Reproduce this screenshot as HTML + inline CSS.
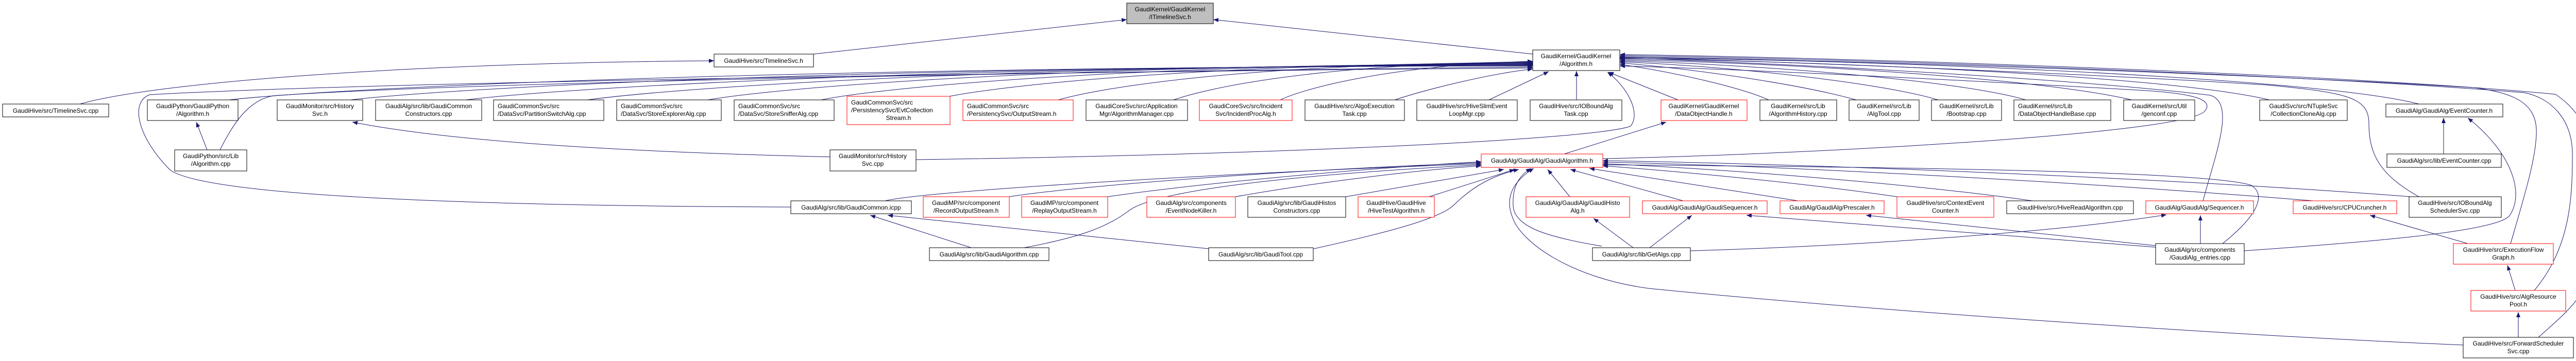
<!DOCTYPE html>
<html><head><meta charset="utf-8"><style>
html,body{margin:0;padding:0;background:#fff}
svg{display:block}
text{font-family:"Liberation Sans",Arial,sans-serif;font-size:12px;fill:#000}
.e{fill:none;stroke:#191970;stroke-width:1}
.n{fill:#fff;stroke:#000;stroke-width:1}
.r{fill:#fff;stroke:#ff0000;stroke-width:1}
</style></head><body>
<svg width="5051" height="701" viewBox="0 0 5051 701" xmlns="http://www.w3.org/2000/svg">
<defs><marker id="a" markerWidth="10" markerHeight="8" refX="10" refY="4" orient="auto" markerUnits="userSpaceOnUse"><path d="M0,0 L10,4 L0,8 z" fill="#191970"/></marker></defs>
<rect width="5051" height="701" fill="#fff"/>
<g class="e" marker-end="url(#a)">
<path d="M1579,105 L2187,38"/>
<path d="M2975,105 L2355,38"/>
<path d="M155,202 C300,160 800,122 1386,118"/>
<path d="M444,194 C646,172 1456,130 2975,128"/>
<path d="M680,194 C870,172 1600,130 2975,127"/>
<path d="M904,194 C1080,172 1780,129 2975,126"/>
<path d="M1140,194 C1300,172 1900,128 2975,125"/>
<path d="M1374,194 C1500,172 2000,127 2975,124"/>
<path d="M1594,194 C1700,172 2150,126 2975,123"/>
<path d="M1843,187 C1940,168 2300,125 2975,122"/>
<path d="M2054,194 C2130,172 2400,124 2975,121"/>
<path d="M2278,194 C2340,172 2550,124 2975,120"/>
<path d="M2485,194 C2530,172 2700,126 2975,119"/>
<path d="M2707,194 C2780,170 2900,142 2975,134"/>
<path d="M2890,194 L3006,139"/>
<path d="M3060,194 L3060,138"/>
<path d="M427,291 C450,245 480,195 530,186 C900,160 2000,140 2975,130"/>
<path d="M1535,402 C900,400 400,380 330,330 C270,270 250,200 290,184 C700,160 2000,140 2975,132"/>
<path d="M1778,310 C2500,300 3100,270 3165,245 C3185,220 3160,170 3120,140"/>
<path d="M3257,194 L3122,140"/>
<path d="M3433,194 C3380,170 3250,140 3144,125"/>
<path d="M3603,194 C3500,165 3300,135 3144,122"/>
<path d="M3762,194 C3650,160 3350,128 3144,120"/>
<path d="M3932,194 C3800,155 3400,125 3144,118"/>
<path d="M4138,194 C3950,150 3450,122 3144,116"/>
<path d="M4405,194 C4200,145 3500,118 3144,114"/>
<path d="M4695,202 C4500,150 3600,115 3144,112"/>
<path d="M4276,390 C4300,300 4340,200 4290,185 C4000,150 3400,120 3144,113"/>
<path d="M4695,382 C4620,340 4598,300 4598,240 C4598,190 4560,180 4400,165 C4000,140 3400,118 3144,111"/>
<path d="M4873,473 C4900,380 4925,300 4923,250 C4920,200 4880,180 4800,170 C4300,140 3500,115 3144,110"/>
<path d="M4919,564 C4990,480 4993,380 4993,300 C4993,230 4950,190 4900,180 C4400,140 3500,112 3144,108"/>
<path d="M4927,655 C5000,590 5042,560 5042,430 C5042,300 5030,230 4960,183 C4500,140 3500,110 3144,106"/>
<path d="M3111,308 C3500,300 4250,260 4280,215 C4300,190 4240,180 4150,175 C3800,155 3400,135 3144,128"/>
<path d="M3036,299 L3234,237"/>
<path d="M402,291 L381,237"/>
<path d="M1778,308 C1300,300 900,280 684,237"/>
<path d="M4743,299 L4743,229"/>
<path d="M4356,487 C4600,470 4840,450 4870,420 C4900,380 4880,300 4790,229"/>
<path d="M1718,390 C1800,370 2400,335 2875,318"/>
<path d="M1959,382 C2100,360 2500,330 2875,316"/>
<path d="M2150,382 C2300,360 2600,330 2875,314"/>
<path d="M2398,382 C2550,355 2750,330 2875,322"/>
<path d="M2612,382 L2919,329"/>
<path d="M2774,382 L2940,329"/>
<path d="M3047,382 L3004,329"/>
<path d="M3267,390 L3048,329"/>
<path d="M3490,390 L3085,327"/>
<path d="M3682,382 C3500,355 3250,332 3111,322"/>
<path d="M3945,390 C3700,355 3300,325 3111,318"/>
<path d="M4490,390 C4000,350 3400,320 3111,315"/>
<path d="M4680,382 C4200,345 3500,318 3111,312"/>
<path d="M1988,481 C2100,460 2150,440 2190,410 C2240,370 2500,340 2875,320"/>
<path d="M1885,481 L1689,418"/>
<path d="M2346,483 L1723,418"/>
<path d="M2550,483 C2700,450 2790,425 2820,400 C2860,360 2900,340 2948,329"/>
<path d="M3170,481 L3093,424"/>
<path d="M3202,481 L3284,418"/>
<path d="M3109,478 C3000,460 2940,440 2937,400 C2935,360 2950,340 2972,327"/>
<path d="M3281,487 C3600,478 4000,450 4205,417"/>
<path d="M4781,670 C4300,650 3600,600 3200,560 C3050,540 2950,470 2935,420 C2920,380 2940,350 2977,327"/>
<path d="M4184,480 L3390,418"/>
<path d="M4184,477 L3622,418"/>
<path d="M4271,473 L4271,418"/>
<path d="M4314,473 C4380,420 4400,380 4370,360 C4300,335 3800,325 3111,320"/>
<path d="M4790,473 L4600,418"/>
<path d="M4882,564 L4867,515"/>
<path d="M4888,655 L4888,606"/>
</g>
<g>
<rect class="n" x="2187" y="6" width="168" height="40" style="fill:#bfbfbf"/><text x="2271" y="22" text-anchor="middle">GaudiKernel/GaudiKernel</text><text x="2271" y="37" text-anchor="middle">/ITimelineSvc.h</text>
<rect class="n" x="1386" y="105" width="193" height="25"/><text x="1482" y="122" text-anchor="middle">GaudiHive/src/TimelineSvc.h</text>
<rect class="n" x="2975" y="97" width="169" height="40"/><text x="3059" y="113" text-anchor="middle">GaudiKernel/GaudiKernel</text><text x="3059" y="128" text-anchor="middle">/Algorithm.h</text>
<rect class="n" x="5" y="202" width="206" height="25"/><text x="108" y="219" text-anchor="middle">GaudiHive/src/TimelineSvc.cpp</text>

<rect class="n" x="286" y="194" width="176" height="40"/><text x="374" y="210" text-anchor="middle">GaudiPython/GaudiPython</text><text x="374" y="225" text-anchor="middle">/Algorithm.h</text>
<rect class="n" x="538" y="194" width="166" height="40"/><text x="621" y="210" text-anchor="middle">GaudiMonitor/src/History</text><text x="621" y="225" text-anchor="middle">Svc.h</text>
<rect class="n" x="729" y="194" width="206" height="40"/><text x="832" y="210" text-anchor="middle">GaudiAlg/src/lib/GaudiCommon</text><text x="832" y="225" text-anchor="middle">Constructors.cpp</text>
<rect class="n" x="958" y="194" width="214" height="40"/><text x="966" y="210">GaudiCommonSvc/src</text><text x="966" y="225">/DataSvc/PartitionSwitchAlg.cpp</text>
<rect class="n" x="1197" y="194" width="203" height="40"/><text x="1205" y="210">GaudiCommonSvc/src</text><text x="1205" y="225">/DataSvc/StoreExplorerAlg.cpp</text>
<rect class="n" x="1425" y="194" width="194" height="40"/><text x="1433" y="210">GaudiCommonSvc/src</text><text x="1433" y="225">/DataSvc/StoreSnifferAlg.cpp</text>
<rect class="r" x="1644" y="187" width="200" height="55"/><text x="1652" y="203">GaudiCommonSvc/src</text><text x="1652" y="218">/PersistencySvc/EvtCollection</text><text x="1744" y="233" text-anchor="middle">Stream.h</text>
<rect class="r" x="1869" y="194" width="214" height="40"/><text x="1877" y="210">GaudiCommonSvc/src</text><text x="1877" y="225">/PersistencySvc/OutputStream.h</text>
<rect class="n" x="2108" y="194" width="197" height="40"/><text x="2206" y="210" text-anchor="middle">GaudiCoreSvc/src/Application</text><text x="2206" y="225" text-anchor="middle">Mgr/AlgorithmManager.cpp</text>
<rect class="r" x="2328" y="194" width="180" height="40"/><text x="2418" y="210" text-anchor="middle">GaudiCoreSvc/src/Incident</text><text x="2418" y="225" text-anchor="middle">Svc/IncidentProcAlg.h</text>
<rect class="n" x="2533" y="194" width="193" height="40"/><text x="2629" y="210" text-anchor="middle">GaudiHive/src/AlgoExecution</text><text x="2629" y="225" text-anchor="middle">Task.cpp</text>
<rect class="n" x="2750" y="194" width="195" height="40"/><text x="2847" y="210" text-anchor="middle">GaudiHive/src/HiveSlimEvent</text><text x="2847" y="225" text-anchor="middle">LoopMgr.cpp</text>
<rect class="n" x="2970" y="194" width="178" height="40"/><text x="3059" y="210" text-anchor="middle">GaudiHive/src/IOBoundAlg</text><text x="3059" y="225" text-anchor="middle">Task.cpp</text>
<rect class="r" x="3224" y="194" width="167" height="40"/><text x="3307" y="210" text-anchor="middle">GaudiKernel/GaudiKernel</text><text x="3307" y="225" text-anchor="middle">/DataObjectHandle.h</text>
<rect class="n" x="3416" y="194" width="149" height="40"/><text x="3490" y="210" text-anchor="middle">GaudiKernel/src/Lib</text><text x="3490" y="225" text-anchor="middle">/AlgorithmHistory.cpp</text>
<rect class="n" x="3589" y="194" width="136" height="40"/><text x="3657" y="210" text-anchor="middle">GaudiKernel/src/Lib</text><text x="3657" y="225" text-anchor="middle">/AlgTool.cpp</text>
<rect class="n" x="3749" y="194" width="136" height="40"/><text x="3817" y="210" text-anchor="middle">GaudiKernel/src/Lib</text><text x="3817" y="225" text-anchor="middle">/Bootstrap.cpp</text>
<rect class="n" x="3909" y="194" width="188" height="40"/><text x="3917" y="210">GaudiKernel/src/Lib</text><text x="3917" y="225">/DataObjectHandleBase.cpp</text>
<rect class="n" x="4122" y="194" width="138" height="40"/><text x="4191" y="210" text-anchor="middle">GaudiKernel/src/Util</text><text x="4191" y="225" text-anchor="middle">/genconf.cpp</text>
<rect class="n" x="4386" y="194" width="170" height="40"/><text x="4471" y="210" text-anchor="middle">GaudiSvc/src/NTupleSvc</text><text x="4471" y="225" text-anchor="middle">/CollectionCloneAlg.cpp</text>
<rect class="n" x="4631" y="202" width="227" height="25"/><text x="4744" y="219" text-anchor="middle">GaudiAlg/GaudiAlg/EventCounter.h</text>

<rect class="n" x="339" y="291" width="140" height="41"/><text x="409" y="307" text-anchor="middle">GaudiPython/src/Lib</text><text x="409" y="322" text-anchor="middle">/Algorithm.cpp</text>
<rect class="n" x="1611" y="291" width="167" height="41"/><text x="1694" y="307" text-anchor="middle">GaudiMonitor/src/History</text><text x="1694" y="322" text-anchor="middle">Svc.cpp</text>
<rect class="r" x="2875" y="299" width="236" height="26"/><text x="2993" y="316" text-anchor="middle">GaudiAlg/GaudiAlg/GaudiAlgorithm.h</text>
<rect class="n" x="4633" y="299" width="222" height="26"/><text x="4744" y="316" text-anchor="middle">GaudiAlg/src/lib/EventCounter.cpp</text>

<rect class="n" x="1535" y="390" width="234" height="25"/><text x="1652" y="407" text-anchor="middle">GaudiAlg/src/lib/GaudiCommon.icpp</text>
<rect class="r" x="1792" y="382" width="167" height="40"/><text x="1875" y="398" text-anchor="middle">GaudiMP/src/component</text><text x="1875" y="413" text-anchor="middle">/RecordOutputStream.h</text>
<rect class="r" x="1983" y="382" width="167" height="40"/><text x="2066" y="398" text-anchor="middle">GaudiMP/src/component</text><text x="2066" y="413" text-anchor="middle">/ReplayOutputStream.h</text>
<rect class="r" x="2226" y="382" width="172" height="40"/><text x="2312" y="398" text-anchor="middle">GaudiAlg/src/components</text><text x="2312" y="413" text-anchor="middle">/EventNodeKiller.h</text>
<rect class="n" x="2422" y="382" width="190" height="40"/><text x="2517" y="398" text-anchor="middle">GaudiAlg/src/lib/GaudiHistos</text><text x="2517" y="413" text-anchor="middle">Constructors.cpp</text>
<rect class="r" x="2636" y="382" width="148" height="40"/><text x="2710" y="398" text-anchor="middle">GaudiHive/GaudiHive</text><text x="2710" y="413" text-anchor="middle">/HiveTestAlgorithm.h</text>
<rect class="r" x="2962" y="382" width="201" height="40"/><text x="3062" y="398" text-anchor="middle">GaudiAlg/GaudiAlg/GaudiHisto</text><text x="3062" y="413" text-anchor="middle">Alg.h</text>
<rect class="r" x="3188" y="390" width="242" height="25"/><text x="3309" y="407" text-anchor="middle">GaudiAlg/GaudiAlg/GaudiSequencer.h</text>
<rect class="r" x="3455" y="390" width="202" height="25"/><text x="3556" y="407" text-anchor="middle">GaudiAlg/GaudiAlg/Prescaler.h</text>
<rect class="r" x="3682" y="382" width="188" height="40"/><text x="3776" y="398" text-anchor="middle">GaudiHive/src/ContextEvent</text><text x="3776" y="413" text-anchor="middle">Counter.h</text>
<rect class="n" x="3895" y="390" width="246" height="25"/><text x="4018" y="407" text-anchor="middle">GaudiHive/src/HiveReadAlgorithm.cpp</text>
<rect class="r" x="4165" y="390" width="209" height="25"/><text x="4269" y="407" text-anchor="middle">GaudiAlg/GaudiAlg/Sequencer.h</text>
<rect class="r" x="4451" y="390" width="201" height="25"/><text x="4551" y="407" text-anchor="middle">GaudiHive/src/CPUCruncher.h</text>
<rect class="n" x="4676" y="382" width="179" height="40"/><text x="4765" y="398" text-anchor="middle">GaudiHive/src/IOBoundAlg</text><text x="4765" y="413" text-anchor="middle">SchedulerSvc.cpp</text>

<rect class="n" x="1804" y="481" width="232" height="25"/><text x="1920" y="498" text-anchor="middle">GaudiAlg/src/lib/GaudiAlgorithm.cpp</text>
<rect class="n" x="2346" y="481" width="203" height="25"/><text x="2447" y="498" text-anchor="middle">GaudiAlg/src/lib/GaudiTool.cpp</text>
<rect class="n" x="3091" y="481" width="190" height="25"/><text x="3186" y="498" text-anchor="middle">GaudiAlg/src/lib/GetAlgs.cpp</text>
<rect class="n" x="4184" y="473" width="172" height="40"/><text x="4270" y="489" text-anchor="middle">GaudiAlg/src/components</text><text x="4270" y="504" text-anchor="middle">/GaudiAlg_entries.cpp</text>
<rect class="r" x="4762" y="473" width="194" height="40"/><text x="4859" y="489" text-anchor="middle">GaudiHive/src/ExecutionFlow</text><text x="4859" y="504" text-anchor="middle">Graph.h</text>
<rect class="r" x="4796" y="564" width="184" height="40"/><text x="4888" y="580" text-anchor="middle">GaudiHive/src/AlgResource</text><text x="4888" y="595" text-anchor="middle">Pool.h</text>
<rect class="n" x="4781" y="655" width="214" height="40"/><text x="4888" y="671" text-anchor="middle">GaudiHive/src/ForwardScheduler</text><text x="4888" y="686" text-anchor="middle">Svc.cpp</text>
</g>
</svg>
</body></html>
